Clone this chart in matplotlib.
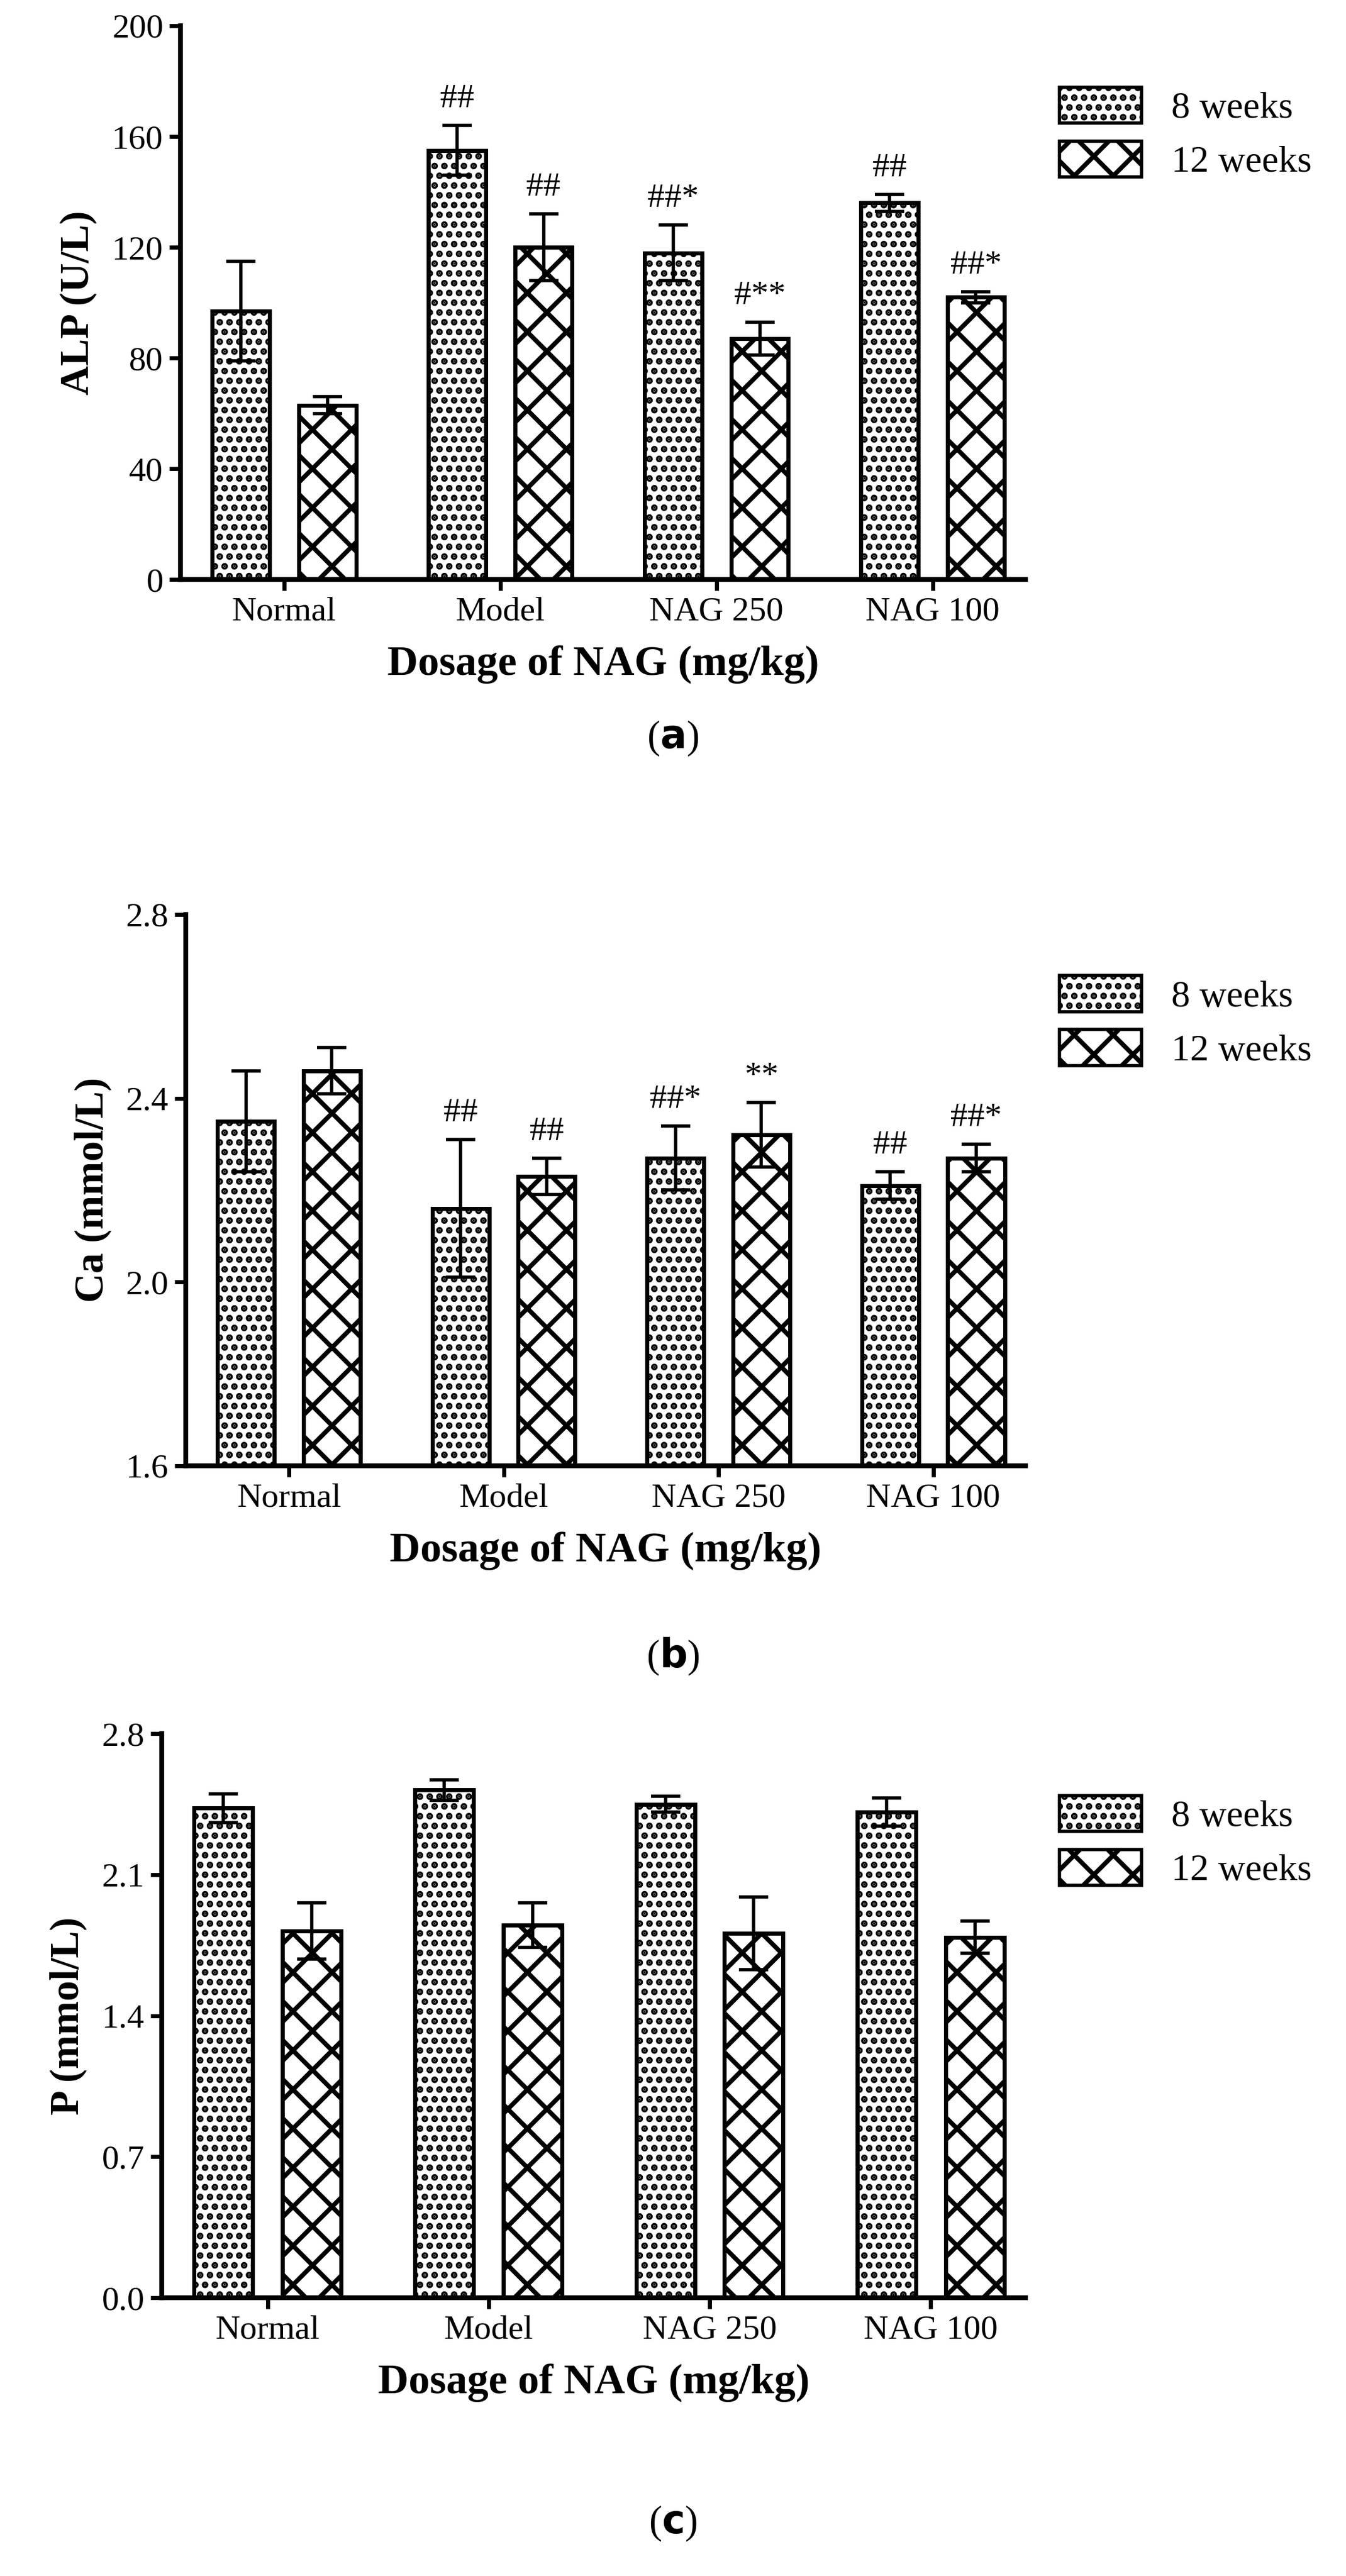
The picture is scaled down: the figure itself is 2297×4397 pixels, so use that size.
import numpy as np
import matplotlib
matplotlib.use("Agg")
import matplotlib.pyplot as plt
from matplotlib.patches import Patch

plt.rcParams["font.family"] = ["Liberation Serif", "DejaVu Serif"]
plt.rcParams["hatch.linewidth"] = 2.8

groups = ["Normal", "Model", "NAG 250", "NAG 100"]

alp_8 = [97, 155, 118, 136]
alp_8_err = [18, 9, 10, 3]
alp_12 = [63, 120, 87, 102]
alp_12_err = [3, 12, 6, 2]
alp_8_sig = ["", "##", "##*", "##"]
alp_12_sig = ["", "##", "#**", "##*"]

ca_8 = [2.35, 2.16, 2.27, 2.21]
ca_8_err = [0.11, 0.15, 0.07, 0.03]
ca_12 = [2.46, 2.23, 2.32, 2.27]
ca_12_err = [0.05, 0.04, 0.07, 0.03]
ca_8_sig = ["", "##", "##*", "##"]
ca_12_sig = ["", "##", "**", "##*"]

p_8 = [2.43, 2.52, 2.45, 2.41]
p_8_err = [0.07, 0.05, 0.04, 0.07]
p_12 = [1.82, 1.85, 1.81, 1.79]
p_12_err = [0.14, 0.11, 0.18, 0.08]

# dpi 200 so hatch tiles come out coarse like the reference
fig = plt.figure(figsize=(11.485, 21.985), dpi=200)

panels = [
    ([0.134, 0.775, 0.628, 0.215], alp_8, alp_8_err, alp_12, alp_12_err, alp_8_sig, alp_12_sig,
     "ALP (U/L)", (0, 200), [0, 40, 80, 120, 160, 200], "{:.0f}", "a", 0.706),
    ([0.138, 0.431, 0.624, 0.214], ca_8, ca_8_err, ca_12, ca_12_err, ca_8_sig, ca_12_sig,
     "Ca (mmol/L)", (1.6, 2.8), [1.6, 2.0, 2.4, 2.8], "{:.1f}", "b", 0.349),
    ([0.12, 0.108, 0.642, 0.219], p_8, p_8_err, p_12, p_12_err, None, None,
     "P (mmol/L)", (0, 2.8), [0, 0.7, 1.4, 2.1, 2.8], "{:.1f}", "c", 0.013),
]

x = np.arange(len(groups))
w = 0.265
off = 0.2
for rect, v8, e8, v12, e12, s8, s12, ylab, ylim, yt, fmt, cap, capy in panels:
    ax = fig.add_axes(rect)
    ax.errorbar(x - off, v8, yerr=e8, fmt="none", ecolor="black", elinewidth=2,
                capsize=9, capthick=2, zorder=1)
    ax.errorbar(x + off, v12, yerr=e12, fmt="none", ecolor="black", elinewidth=2,
                capsize=9, capthick=2, zorder=1)
    ax.bar(x - off, v8, w, facecolor="none", edgecolor="black", hatch="..",
           linewidth=2.5, zorder=2)
    ax.bar(x + off, v12, w, facecolor="none", edgecolor="black", hatch="x",
           linewidth=2.5, zorder=2)
    span = ylim[1] - ylim[0]
    if s8:
        for i in range(len(groups)):
            ax.text(x[i] - off, v8[i] + e8[i] + 0.02 * span, s8[i], ha="center",
                    va="bottom", fontsize=21)
            ax.text(x[i] + off, v12[i] + e12[i] + 0.02 * span, s12[i], ha="center",
                    va="bottom", fontsize=21)
    ax.set_xlim(-0.48, 3.43)
    ax.set_ylim(*ylim)
    ax.set_yticks(yt)
    ax.set_yticklabels([fmt.format(t) for t in yt])
    ax.set_xticks(x)
    ax.set_xticklabels(groups)
    ax.tick_params(axis="both", labelsize=21, width=2.5, length=7)
    for s in ["top", "right"]:
        ax.spines[s].set_visible(False)
    for s in ["left", "bottom"]:
        ax.spines[s].set_linewidth(3)
    ax.set_ylabel(ylab, fontsize=25, fontweight="bold", labelpad=9)
    ax.set_xlabel("Dosage of NAG (mg/kg)", fontsize=26, fontweight="bold", labelpad=11)
    handles = [Patch(facecolor="white", edgecolor="black", hatch="..", linewidth=2, label="8 weeks"),
               Patch(facecolor="white", edgecolor="black", hatch="x", linewidth=2, label="12 weeks")]
    ax.legend(handles=handles, loc="upper left", bbox_to_anchor=(1.0, 0.95), frameon=False,
              fontsize=23, handlelength=2.2, handleheight=1.1, labelspacing=0.4)
    fig.text(0.5, capy, "($\\bf{" + cap + "}$)", ha="center", va="bottom", fontsize=24)

fig.savefig("out.png", dpi=200)
